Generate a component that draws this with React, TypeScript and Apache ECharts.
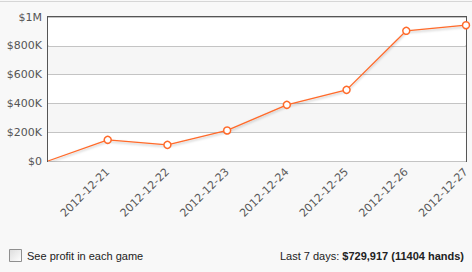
import React, { useEffect, useRef } from "react";
import * as echarts from "echarts";

const categories = ["", "2012-12-21", "2012-12-22", "2012-12-23", "2012-12-24", "2012-12-25", "2012-12-26", "2012-12-27"];
const profit = [0, 147000, 112000, 212000, 390000, 494000, 904000, 943000];
const yTicks = [0, 200000, 400000, 600000, 800000, 1000000];
const yTickLabels = ["$0", "$200K", "$400K", "$600K", "$800K", "$1M"];
const checkboxLabel = "See profit in each game";
const summaryPrefix = "Last 7 days: ";
const summaryValue = "$729,917 (11404 hands)";

export default function App() {
  const ref = useRef<HTMLDivElement>(null);
  useEffect(() => {
    document.body.style.margin = "0";
    const chart = echarts.init(ref.current!, null, { renderer: "svg" });
    chart.setOption({
      animation: false,
      backgroundColor: "#f8f8f8",
      grid: {
        left: 48,
        right: 6,
        top: 17,
        bottom: 111,
        show: true,
        borderColor: "#555555",
        borderWidth: 2,
        backgroundColor: "#ffffff",
        containLabel: false,
      },
      xAxis: {
        type: "category",
        data: categories,
        boundaryGap: false,
        axisLine: { show: false },
        axisTick: { show: false },
        splitLine: { show: false },
        axisLabel: {
          rotate: 45,
          interval: 0,
          color: "#5a5a5a",
          fontFamily: "DejaVu Sans",
          fontSize: 11,
          margin: 9,
        },
      },
      yAxis: {
        type: "value",
        min: yTicks[0],
        max: yTicks[yTicks.length - 1],
        interval: 200000,
        axisLine: { show: false },
        axisTick: { show: false },
        splitLine: { show: true, lineStyle: { color: "#c4c4c4", width: 1 } },
        splitArea: { show: true, areaStyle: { color: ["#ffffff", "#f6f6f6"] } },
        axisLabel: {
          color: "#555555",
          fontFamily: "DejaVu Sans",
          fontSize: 11,
          margin: 6,
          formatter: (v: number) => {
            const i = yTicks.indexOf(v);
            return i >= 0 ? yTickLabels[i] : "";
          },
        },
      },
      series: [
        {
          type: "line",
          data: profit.map((v, i) => (i === 0 ? { value: v, symbol: "none" } : v)),
          symbol: "circle",
          symbolSize: 7,
          showSymbol: true,
          itemStyle: { color: "#ffffff", borderColor: "#ff6a2a", borderWidth: 1.5 },
          lineStyle: {
            color: "#ff6a2a",
            width: 1.3,
            shadowColor: "rgba(0,0,0,0.25)",
            shadowBlur: 2,
            shadowOffsetY: 1.5,
          },
          z: 3,
        },
      ],
      graphic: [
        {
          type: "line",
          shape: { x1: 0, y1: 1.5, x2: 472, y2: 1.5 },
          style: { stroke: "#d6d6d6", lineWidth: 1 },
        },
        {
          type: "rect",
          shape: { x: 9.5, y: 249.5, width: 12, height: 12 },
          style: {
            stroke: "#8f8f8f",
            lineWidth: 1,
            fill: new echarts.graphic.LinearGradient(0, 0, 1, 1, [
              { offset: 0, color: "#dcdcdc" },
              { offset: 1, color: "#ffffff" },
            ]),
          },
        },
        {
          type: "text",
          x: 27,
          y: 256,
          style: {
            text: checkboxLabel,
            fontFamily: "Liberation Sans, Arial",
            fontSize: 11,
            fill: "#222222",
            verticalAlign: "middle",
            align: "left",
          },
        },
        {
          type: "text",
          x: 464,
          y: 256,
          style: {
            text: "{n|" + summaryPrefix + "}{b|" + summaryValue + "}",
            align: "right",
            verticalAlign: "middle",
            rich: {
              n: { fontFamily: "Liberation Sans, Arial", fontSize: 11, fill: "#222222", color: "#222222" },
              b: { fontFamily: "Liberation Sans, Arial", fontSize: 11, fontWeight: "bold", fill: "#222222", color: "#222222" },
            },
          },
        },
      ],
    });
    return () => chart.dispose();
  }, []);
  return <div ref={ref} style={{ width: 472, height: 272 }} />;
}
